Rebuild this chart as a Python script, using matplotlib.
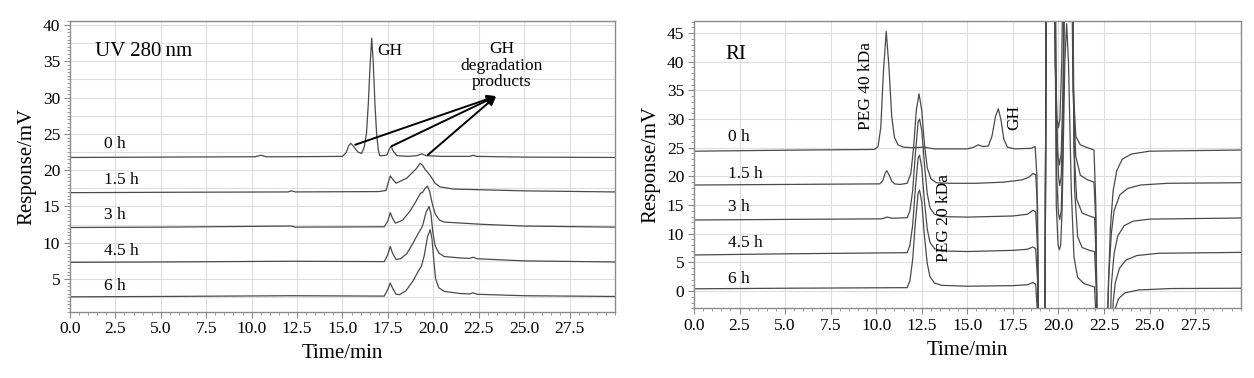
import numpy as np
import matplotlib
matplotlib.use("Agg")
import matplotlib.pyplot as plt
from matplotlib.ticker import MultipleLocator

plt.rcParams['font.family'] = ['Liberation Serif', 'DejaVu Serif']

# ---------------- data (time/min, response/mV) ----------------
time_ticks = [0.0, 2.5, 5.0, 7.5, 10.0, 12.5, 15.0, 17.5, 20.0, 22.5, 25.0, 27.5]
uv_yticks = [5, 10, 15, 20, 25, 30, 35, 40]
ri_yticks = [0, 5, 10, 15, 20, 25, 30, 35, 40, 45]
sample_labels = ["0 h", "1.5 h", "3 h", "4.5 h", "6 h"]

# UV 280 nm traces
uv_0h = [(0, 21.75), (5, 21.8), (10.2, 21.85), (10.5, 22.05), (10.8, 21.85), (12.0, 21.85),
         (15.0, 21.9), (15.2, 22.4), (15.35, 23.4), (15.46, 23.7), (15.6, 23.3), (15.85, 22.5),
         (16.05, 22.3), (16.2, 23.2), (16.32, 25.0), (16.42, 29.0), (16.52, 34.5), (16.61, 38.2),
         (16.7, 34.5), (16.79, 29.0), (16.88, 25.0), (16.97, 22.8), (17.05, 22.0), (17.2, 22.0),
         (17.45, 22.1), (17.58, 22.9), (17.68, 23.3), (17.8, 22.6), (18.0, 22.0), (18.6, 21.9),
         (19.1, 22.0), (19.36, 22.25), (19.6, 22.0), (20.5, 21.9), (22.0, 21.9), (22.2, 22.05),
         (22.4, 21.9), (25, 21.8), (30, 21.75)]
uv_1h5 = [(0, 16.9), (5, 16.95), (12.0, 17.0), (12.2, 17.15), (12.4, 17.0), (17.0, 17.05),
          (17.4, 17.2), (17.52, 18.3), (17.63, 19.2), (17.75, 18.8), (17.95, 18.2), (18.2, 18.5),
          (18.54, 18.9), (18.9, 19.8), (19.1, 20.3), (19.27, 20.95), (19.4, 20.7), (19.55, 20.1),
          (19.82, 19.3), (20.1, 18.2), (20.37, 17.7), (21.1, 17.4), (22.6, 17.3), (25, 17.15),
          (30, 17.0)]
uv_3h = [(0, 12.1), (5, 12.15), (12.2, 12.3), (12.4, 12.15), (17.3, 12.2), (17.5, 13.0),
         (17.63, 14.15), (17.75, 13.4), (17.92, 12.7), (18.3, 13.1), (18.7, 14.3), (19.0, 15.5),
         (19.2, 16.4), (19.3, 16.85), (19.4, 16.9), (19.55, 17.5), (19.68, 17.8), (19.8, 17.05),
         (19.95, 15.3), (20.1, 14.0), (20.35, 13.1), (20.6, 12.85), (21.6, 12.7), (22.6, 12.55),
         (25, 12.3), (30, 12.15)]
uv_4h5 = [(0, 7.3), (5, 7.35), (12.2, 7.45), (17.3, 7.4), (17.5, 8.4), (17.63, 9.5),
          (17.75, 8.6), (17.95, 7.7), (18.2, 7.8), (18.54, 8.5), (18.9, 10.0), (19.15, 11.2),
          (19.3, 11.8), (19.42, 12.4), (19.6, 14.2), (19.77, 15.0), (19.87, 14.0), (19.97, 11.5),
          (20.1, 9.6), (20.3, 8.6), (20.6, 8.1), (21.5, 7.9), (22.0, 7.85), (22.2, 8.0),
          (22.4, 7.8), (25, 7.5), (30, 7.35)]
uv_6h = [(0, 2.55), (5, 2.6), (12.2, 2.7), (17.3, 2.65), (17.5, 3.6), (17.63, 4.45),
         (17.75, 3.8), (17.95, 2.9), (18.15, 2.85), (18.5, 3.4), (18.9, 4.8), (19.2, 6.2),
         (19.35, 6.8), (19.5, 8.2), (19.68, 10.8), (19.83, 11.8), (19.93, 10.5), (20.03, 7.5),
         (20.13, 5.0), (20.3, 3.8), (20.6, 3.3), (21.5, 3.0), (22.0, 2.95), (22.2, 3.1),
         (22.4, 2.9), (25, 2.7), (30, 2.6)]

# RI traces (off-scale excursions kept as read beyond the axis limits)
ri_0h = [(0, 24.4), (3, 24.5), (6, 24.6), (9.9, 24.7), (10.1, 25.2), (10.25, 28.5), (10.4, 38.5),
         (10.55, 45.3), (10.7, 39.0), (10.85, 30.5), (11.0, 26.8), (11.2, 25.5), (11.5, 25.1),
         (12.0, 25.0), (12.6, 25.1), (13.2, 24.8), (15.0, 24.8), (15.35, 25.1), (15.6, 25.5),
         (15.85, 25.2), (16.15, 25.3), (16.35, 27.0), (16.55, 30.5), (16.7, 31.8), (16.85, 29.8),
         (17.0, 26.5), (17.2, 25.1), (17.6, 24.8), (18.5, 24.9), (18.72, 25.2), (18.82, 20),
         (18.92, -20), (19.25, -20), (19.35, 80), (19.68, 80), (19.82, 40), (19.92, 30),
         (20.0, 28.5), (20.08, 30), (20.18, 40), (20.35, 80), (20.68, 80), (20.82, 35),
         (20.95, 27), (21.2, 25.5), (21.6, 25.0), (21.95, 24.6), (22.05, 15), (22.15, -20),
         (22.55, -20), (22.7, -3), (22.85, 11), (23.0, 17.5), (23.2, 21.0), (23.5, 23.0),
         (24.0, 23.9), (25.0, 24.4), (30, 24.6)]
ri_1h5 = [(0, 18.5), (5, 18.6), (10.2, 18.7), (10.35, 19.2), (10.5, 20.6), (10.58, 21.0),
          (10.7, 20.3), (10.85, 19.2), (11.0, 18.7), (11.3, 18.6), (11.7, 18.8), (11.9, 20.5),
          (12.05, 25.0), (12.2, 31.5), (12.35, 34.4), (12.5, 31.5), (12.65, 25.5), (12.8, 21.5),
          (13.0, 19.6), (13.3, 18.9), (14, 18.8), (15.5, 18.8), (17.0, 19.0), (18.0, 19.4),
          (18.4, 19.9), (18.6, 20.5), (18.75, 20.3), (18.85, 15), (18.95, -20), (19.25, -20),
          (19.35, 80), (19.7, 80), (19.85, 35), (19.95, 24), (20.05, 22.0), (20.15, 24),
          (20.25, 35), (20.4, 80), (20.65, 80), (20.8, 35), (20.95, 23.5), (21.2, 20.2),
          (21.6, 19.4), (21.95, 19.0), (22.05, 12), (22.15, -20), (22.6, -20), (22.75, 2),
          (22.9, 10), (23.05, 14.0), (23.37, 16.8), (23.8, 17.9), (24.5, 18.5), (26, 18.8),
          (30, 18.9)]
ri_3h = [(0, 12.4), (5, 12.5), (10.3, 12.6), (10.6, 12.9), (10.9, 12.7), (11.7, 12.8),
         (11.85, 14.0), (12.0, 17.5), (12.15, 24.0), (12.3, 29.5), (12.38, 30.0), (12.5, 28.0),
         (12.65, 22.0), (12.8, 17.0), (12.95, 14.5), (13.2, 13.4), (13.6, 13.0), (15, 12.9),
         (17.5, 13.1), (18.3, 13.4), (18.6, 14.1), (18.75, 13.8), (18.85, 8), (18.95, -20),
         (19.25, -20), (19.35, 80), (19.75, 80), (19.9, 30), (20.0, 20), (20.07, 18.4),
         (20.15, 20), (20.25, 30), (20.4, 80), (20.7, 80), (20.85, 25), (21.0, 16), (21.3, 13.6),
         (21.7, 13.1), (21.98, 12.8), (22.08, 5), (22.18, -20), (22.75, -20), (22.9, 1),
         (23.05, 6.5), (23.25, 9.6), (23.6, 11.4), (24.1, 12.2), (25, 12.55), (30, 12.75)]
ri_4h5 = [(0, 6.3), (5, 6.5), (11.7, 6.7), (11.85, 8.0), (12.0, 11.5), (12.15, 18.0),
          (12.3, 23.2), (12.38, 23.7), (12.5, 21.5), (12.65, 15.5), (12.8, 10.8), (12.95, 8.5),
          (13.2, 7.4), (13.6, 7.0), (15, 6.9), (17.5, 7.1), (18.3, 7.3), (18.6, 7.7),
          (18.75, 7.4), (18.85, 2), (18.95, -20), (19.25, -20), (19.35, 80), (19.75, 80),
          (19.9, 20), (20.0, 13.5), (20.07, 12.5), (20.15, 14), (20.25, 25), (20.4, 80),
          (20.72, 80), (20.88, 18), (21.05, 9.5), (21.3, 7.6), (21.7, 7.1), (21.98, 6.9),
          (22.08, 0), (22.18, -20), (22.85, -20), (23.0, -2), (23.12, 1.5), (23.35, 4.0),
          (23.7, 5.4), (24.3, 6.2), (25.5, 6.6), (30, 6.75)]
ri_6h = [(0, 0.4), (5, 0.5), (11.7, 0.6), (11.85, 1.8), (12.0, 5.5), (12.15, 12.0),
         (12.3, 17.1), (12.38, 17.6), (12.5, 15.5), (12.65, 9.5), (12.8, 4.8), (12.95, 2.5),
         (13.2, 1.4), (13.6, 1.0), (15, 0.85), (17.5, 0.95), (18.3, 1.1), (18.6, 1.5),
         (18.75, 1.2), (18.85, -4), (18.95, -20), (19.25, -20), (19.35, 80), (19.75, 80),
         (19.88, 15), (19.98, 8.0), (20.05, 7.2), (20.12, 8.0), (20.2, 14), (20.35, 40),
         (20.45, 46.6), (20.55, 40), (20.7, 18), (20.85, 6.0), (21.05, 2.4), (21.4, 1.3),
         (21.7, 1.0), (21.98, 0.7), (22.08, -6), (22.2, -20), (23.0, -20), (23.12, -3),
         (23.3, -1.3), (23.65, -0.3), (24.4, 0.2), (26.2, 0.45), (30, 0.5)]

uv_traces = [uv_0h, uv_1h5, uv_3h, uv_4h5, uv_6h]
ri_traces = [ri_0h, ri_1h5, ri_3h, ri_4h5, ri_6h]
uv_label_pos = [23.6, 18.65, 13.8, 8.9, 4.0]
ri_label_pos = [26.9, 20.5, 14.7, 8.4, 2.1]

# ---------------- figure ----------------
fig = plt.figure(figsize=(12.54, 3.78), dpi=100)
ax1 = fig.add_axes([0.0558, 0.1754, 0.4346, 0.7690])
ax2 = fig.add_axes([0.5534, 0.1844, 0.4360, 0.7600])

line_color = '#4a4a4a'
grid_color = '#dedede'
spine_color = '#8a8a8a'
tick_fs = 12.5
label_fs = 15
ann_fs = 12.5


def style(ax, yticks, ylim, ygrid_step):
    ax.set_xlim(0, 30)
    ax.set_ylim(*ylim)
    ax.set_xticks(time_ticks)
    ax.set_xticklabels([f"{t:.1f}" for t in time_ticks])
    ax.set_yticks(yticks)
    ax.xaxis.set_minor_locator(MultipleLocator(0.5))
    ax.yaxis.set_minor_locator(MultipleLocator(0.5 if ygrid_step == 2.5 else 1.0))
    for g in np.arange(2.5, 30, 2.5):
        ax.axvline(g, color=grid_color, lw=0.8, zorder=0)
    for g in np.arange(np.ceil(ylim[0] / ygrid_step) * ygrid_step, ylim[1], ygrid_step):
        ax.axhline(g, color=grid_color, lw=0.8, zorder=0)
    for s in ax.spines.values():
        s.set_color(spine_color)
        s.set_linewidth(1.0)
    ax.tick_params(which='major', direction='out', length=4, width=0.8, color=spine_color,
                   labelsize=tick_fs, pad=3)
    ax.tick_params(which='minor', direction='out', length=2, width=0.6, color=spine_color)
    ax.set_xlabel('Time/min', fontsize=label_fs, labelpad=5)
    ax.set_ylabel('Response/mV', fontsize=label_fs, labelpad=5)


style(ax1, uv_yticks, (0.5, 40.55), 2.5)
style(ax2, ri_yticks, (-3.0, 47.1), 5.0)

for tr in uv_traces:
    t, v = zip(*tr)
    ax1.plot(t, v, color=line_color, lw=0.9, zorder=2)
for tr in ri_traces:
    t, v = zip(*tr)
    ax2.plot(t, v, color=line_color, lw=0.9, zorder=2)

for lab, y in zip(sample_labels, uv_label_pos):
    ax1.text(1.9, y, lab, fontsize=ann_fs, va='center', ha='left')
for lab, y in zip(sample_labels, ri_label_pos):
    ax2.text(1.85, y, lab, fontsize=ann_fs, va='center', ha='left')

ax1.text(1.4, 36.3, 'UV 280\u2009nm', fontsize=label_fs, va='center', ha='left')
ax1.text(16.9, 36.4, 'GH', fontsize=ann_fs, va='center', ha='left')
ax1.text(23.77, 34.4, 'GH\ndegradation\nproducts', fontsize=ann_fs, va='center', ha='center',
         linespacing=1.05)
arrow_tip = (23.46, 30.2)
arrow_starts = [(15.7, 23.5), (17.7, 23.3), (19.7, 22.1)]
for st in arrow_starts:
    ax1.annotate('', xy=arrow_tip, xytext=st,
                 arrowprops=dict(arrowstyle='-|>', color='black', lw=1.4, mutation_scale=13,
                                 shrinkA=0, shrinkB=0))

ax2.text(1.7, 41.2, 'RI', fontsize=label_fs, va='center', ha='left')
ax2.text(9.44, 35.8, 'PEG 40 kDa', fontsize=ann_fs, va='center', ha='center', rotation=90)
ax2.text(13.7, 12.7, 'PEG 20 kDa', fontsize=ann_fs, va='center', ha='center', rotation=90)
ax2.text(17.6, 30.3, 'GH', fontsize=ann_fs, va='center', ha='center', rotation=90)

fig.savefig('out.png', dpi=100)
